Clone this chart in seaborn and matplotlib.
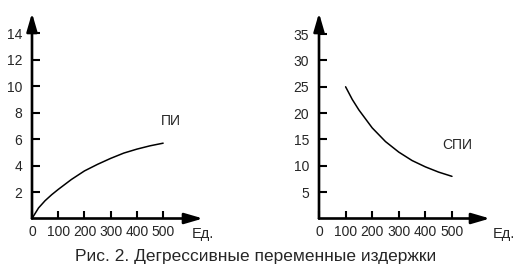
import matplotlib
matplotlib.use("Agg")
import matplotlib.pyplot as plt
import seaborn as sns
import pandas as pd

sns.set_style("white")
plt.rcParams['font.family'] = ['Liberation Sans', 'DejaVu Sans']

# Data
pi_x = [0, 25, 50, 75, 100, 150, 200, 250, 300, 350, 400, 450, 500]
pi_y = [0, 0.8, 1.35, 1.8, 2.2, 2.95, 3.6, 4.1, 4.55, 4.95, 5.25, 5.5, 5.7]
spi_x = [100, 125, 150, 200, 250, 300, 350, 400, 450, 500]
spi_y = [25, 22.6, 20.6, 17.2, 14.6, 12.6, 11.0, 9.8, 8.8, 8.0]
x_ticks = [0, 100, 200, 300, 400, 500]
left_yticks = [2, 4, 6, 8, 10, 12, 14]
right_yticks = [5, 10, 15, 20, 25, 30, 35]
caption = "Рис. 2. Дегрессивные переменные издержки"

fig = plt.figure(figsize=(5.17, 2.74), dpi=100)
W, H = 517, 274

def make_ax(x0, x_end, y0, y_top):
    return fig.add_axes([x0 / W, (H - y0) / H, (x_end - x0) / W, (y0 - y_top) / H])

axL = make_ax(32, 203, 218.5, 13)
axR = make_ax(319, 490, 218.5, 13)

def style(ax, xmax, ymax, yticks, df, label, lx, ly):
    sns.lineplot(data=df, x="x", y="y", ax=ax, color="black", linewidth=1.1)
    ax.set_xlim(0, xmax)
    ax.set_ylim(0, ymax)
    for s in ax.spines.values():
        s.set_visible(False)
    arrow = dict(arrowstyle="-|>,head_length=1.1,head_width=0.32",
                 color="black", lw=1.9, shrinkA=0, shrinkB=0)
    ax.annotate("", xy=(1, 0), xytext=(0, 0), xycoords="axes fraction",
                arrowprops=arrow, annotation_clip=False)
    ax.annotate("", xy=(0, 1), xytext=(0, 0), xycoords="axes fraction",
                arrowprops=arrow, annotation_clip=False)
    ax.set_xticks(x_ticks)
    ax.set_xticklabels([str(t) for t in x_ticks], fontsize=10)
    ax.set_yticks(yticks)
    ax.set_yticklabels([str(t) for t in yticks], fontsize=10)
    ax.tick_params(axis="x", bottom=True, direction="in", length=6, width=1.5,
                   pad=5, color="black")
    ax.tick_params(axis="y", left=True, direction="in", length=6, width=1.5,
                   pad=7, color="black")
    ax.set_xlabel("")
    ax.set_ylabel("")
    ax.text(lx, ly, label, fontsize=10, ha="left", va="center")

dfL = pd.DataFrame({"x": pi_x, "y": pi_y})
dfR = pd.DataFrame({"x": spi_x, "y": spi_y})
style(axL, 652, 15.55, left_yticks, dfL, "ПИ", 490, 7.4)
style(axR, 643, 39.0, right_yticks, dfR, "СПИ", 465, 14.0)

fig.text(192 / W, 1 - 234 / H, "Ед.", fontsize=10.5, ha="left", va="center")
fig.text(493 / W, 1 - 234 / H, "Ед.", fontsize=10.5, ha="left", va="center")
fig.text(256 / W, 1 - 261 / H, caption, fontsize=12.5, ha="center", va="baseline")

fig.savefig("out.png", dpi=100)
